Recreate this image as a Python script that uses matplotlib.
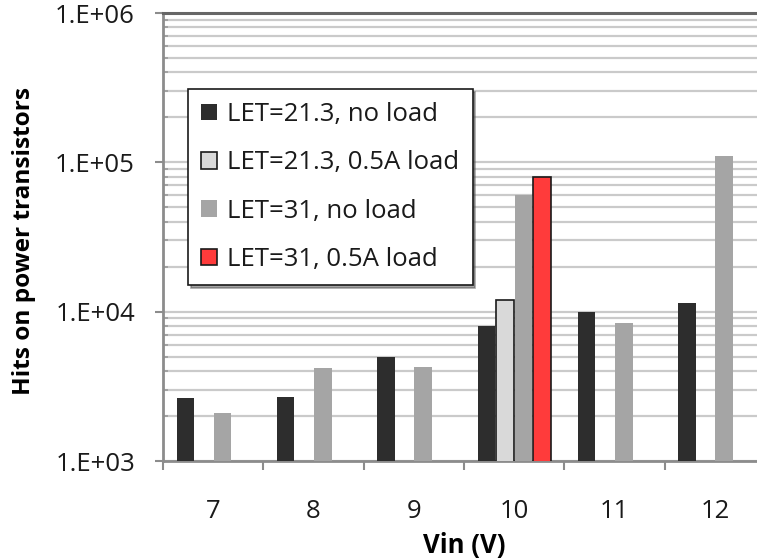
import numpy as np
import matplotlib
matplotlib.use("Agg")
import matplotlib.pyplot as plt
from matplotlib.ticker import LogLocator, FixedLocator, NullFormatter, FixedFormatter

categories = ["7", "8", "9", "10", "11", "12"]
series_names = ["LET=21.3, no load", "LET=21.3, 0.5A load", "LET=31, no load", "LET=31, 0.5A load"]
let213_noload = [2650, 2680, 5000, 8050, 10000, 11400]
let213_05A = [np.nan, np.nan, np.nan, 12000, np.nan, np.nan]
let31_noload = [2110, 4200, 4250, 60000, 8450, 111000]
let31_05A = [np.nan, np.nan, np.nan, 80000, np.nan, np.nan]
y_ticks = [1e3, 1e4, 1e5, 1e6]
y_tick_labels = ["1.E+03", "1.E+04", "1.E+05", "1.E+06"]

plt.rcParams['font.family'] = ['Open Sans', 'DejaVu Sans']

W, H = 757, 560
PX = 72 / 100  # points per pixel
fig = plt.figure(figsize=(W / 100, H / 100), dpi=100)
ax = fig.add_axes([163 / W, 99 / H, 602 / W, 448 / H])

x = np.arange(len(categories))
step = 0.185
bw = 0.175
series = [let213_noload, let213_05A, let31_noload, let31_05A]
colors = ["#2d2d2d", "#d9d9d9", "#a5a5a5", "#ff3b3b"]
edges = ["none", "#1a1a1a", "none", "#1a1a1a"]
handles = []
for i, (vals, c, ec, name) in enumerate(zip(series, colors, edges, series_names)):
    b = ax.bar(x + (i - 1.5) * step, vals, width=bw, color=c, edgecolor=ec,
               linewidth=1.2, label=name, zorder=3, bottom=1)
    handles.append(b)

ax.set_yscale("log")
ax.set_ylim(1e3, 1e6)
ax.set_xlim(-0.5, len(categories) - 0.5)

ax.yaxis.set_major_locator(FixedLocator(y_ticks))
ax.yaxis.set_major_formatter(FixedFormatter(y_tick_labels))
ax.yaxis.set_minor_locator(LogLocator(base=10, subs=np.arange(2, 10)))
ax.yaxis.set_minor_formatter(NullFormatter())
ax.grid(axis="y", which="both", color="#cacaca", linewidth=1.6, zorder=0)
ax.set_axisbelow(True)

ax.tick_params(axis="y", which="major", direction="out", length=8 * PX, width=1.5,
               color="#8c8c8c", labelsize=18.5, pad=20 * PX, labelcolor="#1a1a1a")
ax.tick_params(axis="y", which="minor", direction="in", length=5 * PX, width=1.2, color="#9a9a9a")

ax.set_xticks(np.arange(-0.5, len(categories) - 0.4, 1.0))
ax.set_xticklabels([])
ax.set_xticks(x, minor=True)
ax.set_xticklabels(categories, minor=True)
ax.tick_params(axis="x", which="major", direction="out", length=9 * PX, width=1.5, color="#8c8c8c")
ax.tick_params(axis="x", which="minor", length=0, labelsize=18.5, pad=38 * PX, labelcolor="#1a1a1a")

for s in ["left", "bottom"]:
    ax.spines[s].set_color("#8c8c8c")
    ax.spines[s].set_linewidth(2)
ax.spines["top"].set_color("#666666")
ax.spines["top"].set_linewidth(2.2)
ax.spines["right"].set_visible(False)

ax.set_ylabel("Hits on power transistors", fontsize=17.6, fontweight="bold")
ax.set_xlabel("Vin (V)", fontsize=18.5, fontweight="bold")
ax.yaxis.set_label_coords((36 - 163) / 602, (461 - 241) / 448)
ax.xaxis.set_label_coords(0.5, (461 - 532) / 448)

leg = ax.legend(handles=handles, loc="upper left",
                bbox_to_anchor=((188 - 163) / 602, (461 - 89) / 448),
                fontsize=18.5, frameon=True, fancybox=False, shadow=True,
                handlelength=0.6, handleheight=0.6, handletextpad=0.4,
                borderpad=0.52, labelspacing=0.9, borderaxespad=0)
leg.get_frame().set_edgecolor("#1a1a1a")
leg.get_frame().set_linewidth(1.2)
for t in leg.get_texts():
    t.set_color("#1a1a1a")

fig.savefig("out.png", dpi=100)
